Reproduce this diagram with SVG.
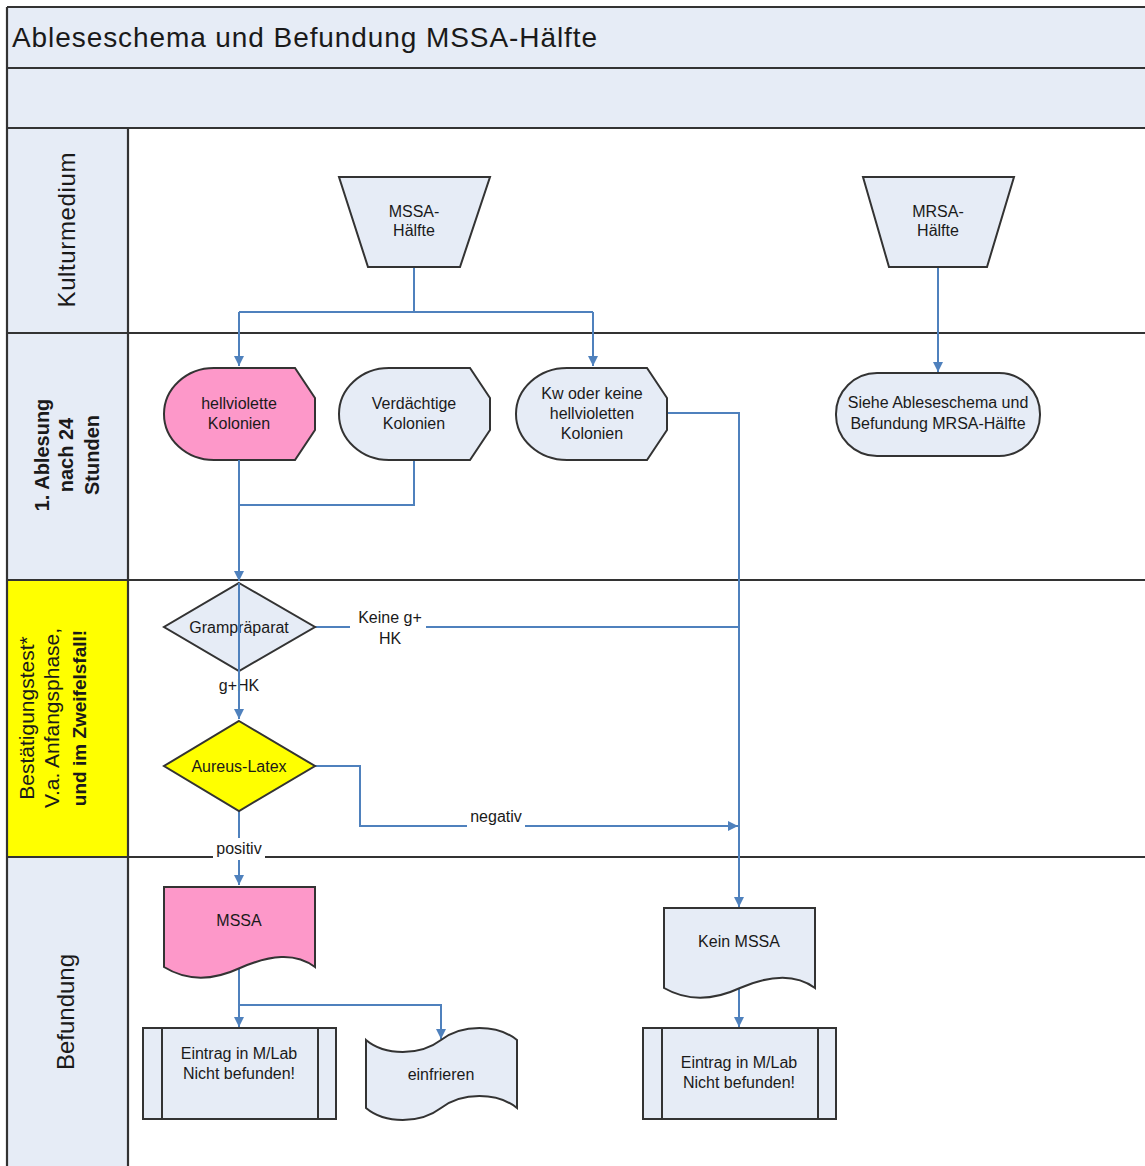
<svg xmlns="http://www.w3.org/2000/svg" width="1145" height="1166" viewBox="0 0 1145 1166">
<style>
  text { font-family: "Liberation Sans", Arial, sans-serif; fill: #1a1a1a; }
  .nt { font-size: 16px; text-anchor: middle; }
  .lane { font-size: 24px; text-anchor: middle; }
  .lb { font-size: 20px; text-anchor: middle; }
  .bold { font-weight: bold; }
  .shape { stroke: #333; stroke-width: 2; }
  .lt { fill: #e6ecf6; }
  .pink { fill: #fd98c9; }
  .yel { fill: #ffff00; }
  .grid { stroke: #333; stroke-width: 2.2; fill: none; }
  .con { stroke: #4f81bd; stroke-width: 2; fill: none; }
</style>
<defs>
  <marker id="arr" viewBox="0 0 10 10" refX="10" refY="5" markerWidth="10" markerHeight="10" markerUnits="userSpaceOnUse" orient="auto">
    <path d="M0,0 L10,5 L0,10 Z" fill="#4f81bd"/>
  </marker>
</defs>

<g id="pool">
  <rect x="0" y="0" width="1145" height="1166" fill="#ffffff"/>
  <rect x="7" y="7" width="1138" height="121" fill="#e6ecf6"/>
  <rect x="7" y="128" width="121" height="452" fill="#e6ecf6"/>
  <rect x="7" y="580" width="121" height="277" fill="#ffff00"/>
  <rect x="7" y="857" width="121" height="309" fill="#e6ecf6"/>
  <path class="grid" d="M7 7 H1145 M7 68 H1145 M7 128 H1145 M7 333 H1145 M7 580 H1145 M7 857 H1145 M7 7 V1166 M128 128 V1166"/>
  <text x="12" y="47" style="font-size:28px" textLength="585">Ableseschema und Befundung MSSA-Hälfte</text>
</g>

<g id="lane-labels">
  <text class="lane" transform="translate(66,230) rotate(-90)" x="0" y="9" textLength="155">Kulturmedium</text>
  <g transform="translate(66,455) rotate(-90)">
    <text class="lb bold" x="0" y="-17">1. Ablesung</text>
    <text class="lb bold" x="0" y="7">nach 24</text>
    <text class="lb bold" x="0" y="33">Stunden</text>
  </g>
  <g transform="translate(53,718) rotate(-90)">
    <text class="lb" style="font-size:21px" x="0" y="-19">Bestätigungstest*</text>
    <text class="lb" style="font-size:21px" x="0" y="6">V.a. Anfangsphase,</text>
    <text class="lb bold" style="font-size:19px" x="0" y="33">und im Zweifelsfall!</text>
  </g>
  <text class="lane" transform="translate(65,1012) rotate(-90)" x="0" y="9">Befundung</text>
</g>

<g id="connectors">
  <path class="con" d="M414 267 V312 M239 312 H593" />
  <path class="con" d="M239 312 V366" marker-end="url(#arr)"/>
  <path class="con" d="M593 312 V366" marker-end="url(#arr)"/>
  <path class="con" d="M938 267 V372" marker-end="url(#arr)"/>
  <path class="con" d="M414 460 V505 H239"/>
  <path class="con" d="M667 413 H739 V907" marker-end="url(#arr)"/>
  <path class="con" d="M315 627 H739"/>
  <path class="con" d="M315 766 H360 V826 H738" marker-end="url(#arr)"/>
  <path class="con" d="M239 811 V885" marker-end="url(#arr)"/>
  <path class="con" d="M239 967 V1027" marker-end="url(#arr)"/>
  <path class="con" d="M239 1005 H441 V1039" marker-end="url(#arr)"/>
  <path class="con" d="M739 988 V1027" marker-end="url(#arr)"/>
  <rect x="350" y="610" width="76" height="34" fill="#fff"/>
  <rect x="467" y="808" width="58" height="22" fill="#fff"/>
  <rect x="213" y="838" width="52" height="22" fill="#fff"/>
  <text class="nt" x="390" y="623">Keine g+</text>
  <text class="nt" x="390" y="644">HK</text>
  <text class="nt" x="496" y="822">negativ</text>
  <text class="nt" x="239" y="854">positiv</text>
  <text class="nt" x="239" y="691">g+HK</text>
</g>

<g id="mssa-haelfte">
  <polygon class="shape lt" points="339,177 490,177 460,267 368,267"/>
  <text class="nt" x="414" y="217">MSSA-</text>
  <text class="nt" x="414" y="236">Hälfte</text>
</g>
<g id="mrsa-haelfte">
  <polygon class="shape lt" points="863,177 1014,177 987,267 889,267"/>
  <text class="nt" x="938" y="217">MRSA-</text>
  <text class="nt" x="938" y="236">Hälfte</text>
</g>

<g id="hellviolette">
  <path class="shape pink" d="M214 368 H295 L315 398 V430 L295 460 H214 A50 46 0 0 1 164 414 A50 46 0 0 1 214 368 Z"/>
  <text class="nt" x="239" y="409">hellviolette</text>
  <text class="nt" x="239" y="429">Kolonien</text>
</g>
<g id="verdaechtige">
  <path class="shape lt" d="M389 368 H470 L490 398 V430 L470 460 H389 A50 46 0 0 1 339 414 A50 46 0 0 1 389 368 Z"/>
  <text class="nt" x="414" y="409">Verdächtige</text>
  <text class="nt" x="414" y="429">Kolonien</text>
</g>
<g id="kw">
  <path class="shape lt" d="M567 368 H647 L667 398 V430 L647 460 H567 A51 46 0 0 1 516 414 A51 46 0 0 1 567 368 Z"/>
  <text class="nt" x="592" y="399">Kw oder keine</text>
  <text class="nt" x="592" y="419">hellvioletten</text>
  <text class="nt" x="592" y="439">Kolonien</text>
</g>
<g id="siehe-mrsa">
  <rect class="shape lt" x="836" y="373" width="204" height="83" rx="41" ry="41"/>
  <text class="nt" x="938" y="408">Siehe Ableseschema und</text>
  <text class="nt" x="938" y="429">Befundung MRSA-Hälfte</text>
</g>

<g id="grampraeparat">
  <polygon class="shape lt" points="239,583 315,627 239,671 164,627"/>
  <text class="nt" x="239" y="633">Grampräparat</text>
</g>
<path class="con" d="M239 460 V581" marker-end="url(#arr)"/>
<path class="con" d="M239 583 V719" marker-end="url(#arr)"/>

<g id="aureus-latex">
  <polygon class="shape yel" points="239,721 315,766 239,811 164,766"/>
  <text class="nt" x="239" y="772">Aureus-Latex</text>
</g>

<g id="mssa">
  <path class="shape pink" d="M164 887 H315 V967 C295 952 270 955 240 968 C210 982 185 980 164 967 Z"/>
  <text class="nt" x="239" y="926">MSSA</text>
</g>
<g id="kein-mssa">
  <path class="shape lt" d="M664 908 H815 V988 C795 973 770 975 740 988 C710 1002 685 1000 664 988 Z"/>
  <text class="nt" x="739" y="947">Kein MSSA</text>
</g>
<g id="eintrag-1">
  <rect class="shape lt" x="143" y="1028" width="193" height="91"/>
  <path class="shape" d="M162 1028 V1119 M318 1028 V1119"/>
  <text class="nt" x="239" y="1059">Eintrag in M/Lab</text>
  <text class="nt" x="239" y="1079">Nicht befunden!</text>
</g>
<g id="einfrieren">
  <path class="shape lt" d="M366 1040 C385 1056 420 1056 441 1040 C462 1024 497 1024 517 1040 V1108 C497 1092 462 1092 441 1108 C420 1124 385 1124 366 1108 Z"/>
  <text class="nt" x="441" y="1080">einfrieren</text>
</g>
<g id="eintrag-2">
  <rect class="shape lt" x="643" y="1028" width="193" height="91"/>
  <path class="shape" d="M662 1028 V1119 M818 1028 V1119"/>
  <text class="nt" x="739" y="1068">Eintrag in M/Lab</text>
  <text class="nt" x="739" y="1088">Nicht befunden!</text>
</g>
</svg>
